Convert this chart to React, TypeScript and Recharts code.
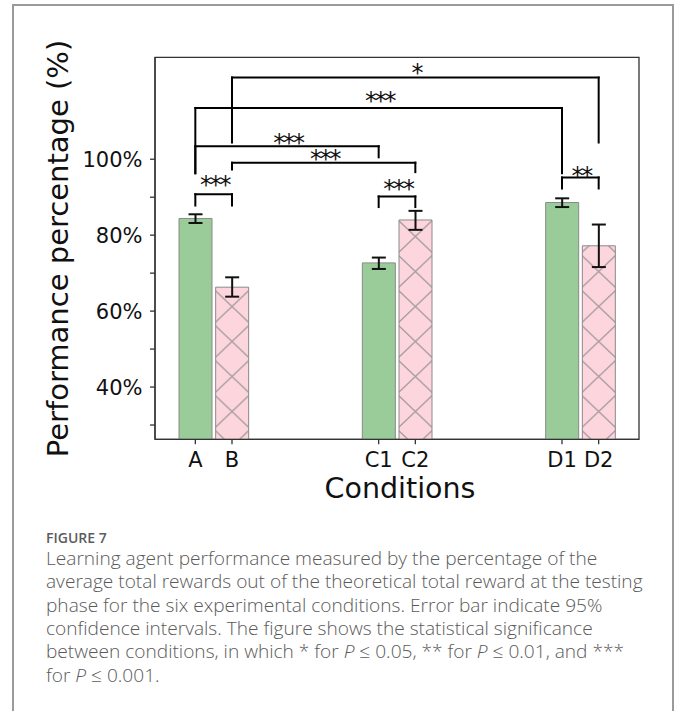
import React from 'react';
import {
  ComposedChart,
  Bar,
  XAxis,
  YAxis,
  ErrorBar,
  Cell,
  ReferenceLine,
  ReferenceDot,
  ReferenceArea,
} from 'recharts';

// ---------- data ----------
const categories = ['A', 'B', 'C1', 'C2', 'D1', 'D2'];
const xPositions = [0, 0.4, 2, 2.4, 4, 4.4];
const performance = [84.4, 66.3, 72.7, 84.0, 88.6, 77.2];
const ciLow = [83.2, 63.8, 71.1, 81.4, 87.4, 71.6];
const ciHigh = [85.5, 68.9, 74.1, 86.4, 89.7, 82.8];
const hatched = [false, true, false, true, false, true];

const yTicks = [30, 40, 50, 60, 70, 80, 90, 100];
const yLabelStep = 20;
const xDomain = [-0.44, 4.84];
const yDomain = [26.24, 126.84];

// significance brackets
const bracketFrom = ['A', 'C1', 'D1', 'A', 'B', 'A', 'B'];
const bracketTo = ['B', 'C2', 'D2', 'C1', 'C2', 'D1', 'D2'];
const bracketTop = [90.8, 90.2, 95.2, 103.4, 99.1, 113.5, 121.5];
const bracketLegFrom = [87.8, 87.4, 92.3, 96.3, 97.3, 96.3, 104.4];
const bracketLegTo = [87.8, 87.4, 92.3, 100.5, 96.6, 96.3, 104.4];
const bracketLabel = ['***', '***', '**', '***', '***', '***', '*'];
const bracketLabelY = [94.6, 93.7, 97.2, 105.7, 101.5, 116.9, 124.2];

const yAxisTitle = 'Performance percentage (%)';
const xAxisTitle = 'Conditions';
const figureLabel = 'FIGURE 7';

const data = categories.map((c, i) => ({
  name: c,
  x: xPositions[i],
  value: performance[i],
  err: [performance[i] - ciLow[i], ciHigh[i] - performance[i]],
}));

const posOf = (c: string) => xPositions[categories.indexOf(c)];

const FONT = 'DejaVu Sans';
const GREEN = '#99cc99';
const PINK = '#fdd6dd';
const AX = '#333333';

const CaptionP = () => <tspan fontStyle="italic">P</tspan>;

export default function App() {
  const lines: React.ReactNode[] = [];
  bracketFrom.forEach((f, i) => {
    const x1 = posOf(f);
    const x2 = posOf(bracketTo[i]);
    const common = {
      stroke: '#000',
      strokeWidth: 2,
      strokeLinecap: 'square' as const,
      isFront: true,
    };
    lines.push(
      <ReferenceLine
        key={`l${i}`}
        segment={[
          { x: x1, y: bracketLegFrom[i] },
          { x: x1, y: bracketTop[i] },
        ]}
        {...common}
      />,
      <ReferenceLine
        key={`t${i}`}
        segment={[
          { x: x1, y: bracketTop[i] },
          { x: x2, y: bracketTop[i] },
        ]}
        {...common}
      />,
      <ReferenceLine
        key={`r${i}`}
        segment={[
          { x: x2, y: bracketTop[i] },
          { x: x2, y: bracketLegTo[i] },
        ]}
        {...common}
      />,
      <ReferenceDot
        key={`d${i}`}
        x={(x1 + x2) / 2}
        y={bracketLabelY[i]}
        r={0}
        isFront
        shape={(p: any) => (
          <text
            x={p.cx + 1}
            y={p.cy}
            dy={0.573 * 24}
            textAnchor="middle"
            fontFamily={FONT}
            fontSize={24}
            letterSpacing={-2.2}
            fill="#111"
          >
            {bracketLabel[i]}
          </text>
        )}
      />
    );
  });

  return (
    <div
      style={{
        position: 'absolute',
        left: 0,
        top: 0,
        width: 680,
        height: 711,
        overflow: 'hidden',
        background: '#fff',
      }}
    >
      <div
        style={{
          position: 'absolute',
          left: 12,
          top: 4,
          width: 662,
          height: 707,
          borderTop: '2px solid #9a9a9a',
          borderLeft: '2px solid #9a9a9a',
          borderRight: '2px solid #9a9a9a',
          boxSizing: 'border-box',
        }}
      />
      <div style={{ position: 'absolute', left: 0, top: 0 }}>
        <ComposedChart
          width={680}
          height={520}
          data={data}
          margin={{ top: 57.3, right: 41, bottom: 20.7, left: 0 }}
          barCategoryGap={0}
        >
          <defs>
            <pattern
              id="hatchX"
              patternUnits="userSpaceOnUse"
              x={213.67}
              y={9}
              width={36.67}
              height={35}
            >
              <rect x={0} y={0} width={36.67} height={35} fill={PINK} />
              <path
                d="M0,0L36.67,35M36.67,0L0,35"
                stroke="#a99ca2"
                strokeWidth={1.3}
              />
            </pattern>
          </defs>
          <ReferenceArea
            x1={xDomain[0]}
            x2={xDomain[1]}
            y1={yDomain[0]}
            y2={yDomain[1]}
            fill="none"
            stroke={AX}
            strokeWidth={1.3}
            fillOpacity={0}
          />
          <XAxis
            type="number"
            dataKey="x"
            domain={xDomain}
            ticks={xPositions}
            interval={0}
            allowDataOverflow
            height={60}
            tickSize={5}
            tickMargin={7.5}
            axisLine={{ stroke: AX, strokeWidth: 1.3 }}
            tickLine={{ stroke: AX, strokeWidth: 1.3 }}
            tick={{ fill: '#111', fontSize: 21, fontFamily: FONT }}
            tickFormatter={(v: number) => categories[xPositions.indexOf(v)] ?? ''}
            label={{
              content: (props: any) => {
                const vb = props.viewBox || { x: 155, y: 439.3, width: 484 };
                return (
                  <text
                    x={vb.x + vb.width / 2 + 3}
                    y={vb.y + 59}
                    textAnchor="middle"
                    fontFamily={FONT}
                    fontSize={28.5}
                    fill="#111"
                  >
                    {xAxisTitle}
                  </text>
                );
              },
            }}
          />
          <YAxis
            type="number"
            domain={yDomain}
            ticks={yTicks}
            interval={0}
            allowDataOverflow
            width={155}
            tickSize={5}
            tickMargin={7.5}
            axisLine={{ stroke: AX, strokeWidth: 1.3 }}
            tickLine={{ stroke: AX, strokeWidth: 1.3 }}
            tick={{ fill: '#111', fontSize: 21, fontFamily: FONT }}
            tickFormatter={(v: number) => (v % yLabelStep === 0 ? `${v}%` : '')}
            label={{
              content: (props: any) => {
                const vb = props.viewBox || { x: 0, y: 57.3, width: 155, height: 382 };
                const cx = vb.x + 67.6;
                const cy = vb.y + vb.height / 2 + 0.2;
                return (
                  <text
                    x={cx}
                    y={cy}
                    transform={`rotate(-90, ${cx}, ${cy})`}
                    textAnchor="middle"
                    fontFamily={FONT}
                    fontSize={29}
                    fill="#111"
                  >
                    {yAxisTitle}
                  </text>
                );
              },
            }}
          />
          <Bar
            dataKey="value"
            barSize={36.67}
            isAnimationActive={false}
            stroke="#8a8a8a"
            strokeWidth={1}
          >
            {data.map((d, i) => (
              <Cell key={d.name} fill={hatched[i] ? 'url(#hatchX)' : GREEN} />
            ))}
            <ErrorBar
              dataKey="err"
              direction="y"
              width={7}
              stroke="#111"
              strokeWidth={2}
              isAnimationActive={false}
            />
          </Bar>
          {lines}
        </ComposedChart>
      </div>
      <svg
        width={680}
        height={191}
        style={{ position: 'absolute', left: 0, top: 520 }}
      >
        <text
          x={46}
          y={22.7}
          fontFamily="Open Sans"
          fontWeight={600}
          fontSize={14}
          fill="#5c5c5c"
        >
          {figureLabel}
        </text>
        <g fontFamily="Open Sans" fontWeight={300} fontSize={19.1} fill="#5a5a5a">
          <text x={46} y={45}>
            Learning agent performance measured by the percentage of the
          </text>
          <text x={46} y={68.3}>
            average total rewards out of the theoretical total reward at the testing
          </text>
          <text x={46} y={91.7}>
            phase for the six experimental conditions. Error bar indicate 95%
          </text>
          <text x={46} y={115}>
            confidence intervals. The figure shows the statistical significance
          </text>
          <text x={46} y={138.3}>
            between conditions, in which * for <CaptionP /> ≤ 0.05, ** for <CaptionP /> ≤ 0.01, and ***
          </text>
          <text x={46} y={161.7}>
            for <CaptionP /> ≤ 0.001.
          </text>
        </g>
      </svg>
    </div>
  );
}
